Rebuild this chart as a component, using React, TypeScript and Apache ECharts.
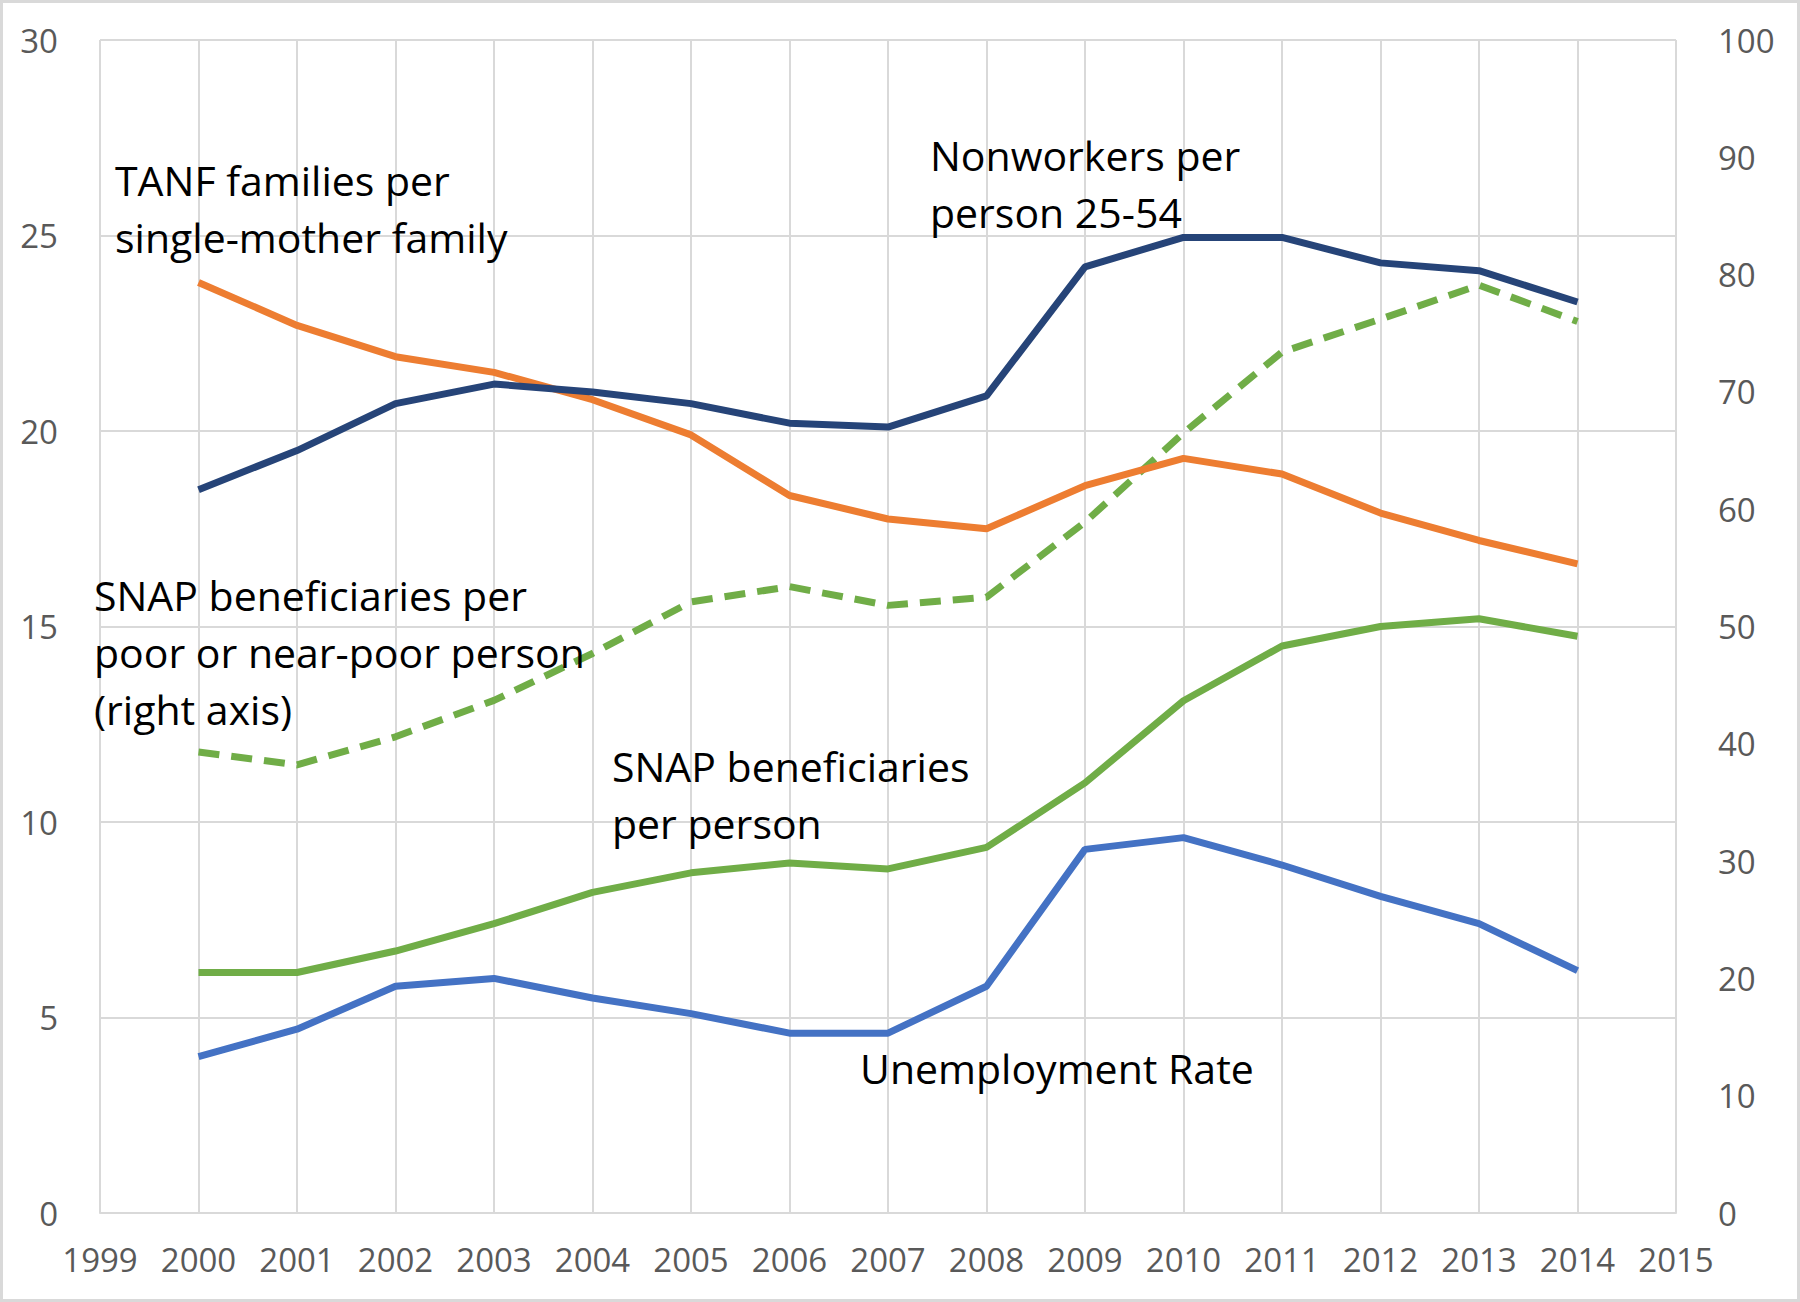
import React, { useEffect, useRef } from "react";
import * as echarts from "echarts";

const years = [2000, 2001, 2002, 2003, 2004, 2005, 2006, 2007, 2008, 2009, 2010, 2011, 2012, 2013, 2014];
const tanfFamilies = [23.8, 22.7, 21.9, 21.5, 20.8, 19.9, 18.35, 17.75, 17.5, 18.6, 19.3, 18.9, 17.9, 17.2, 16.6];
const nonworkers = [18.5, 19.5, 20.7, 21.2, 21.0, 20.7, 20.2, 20.1, 20.9, 24.2, 24.95, 24.95, 24.3, 24.1, 23.3];
const snapPerPerson = [6.15, 6.15, 6.7, 7.4, 8.2, 8.7, 8.95, 8.8, 9.35, 11.0, 13.1, 14.5, 15.0, 15.2, 14.75];
const unemployment = [4.0, 4.7, 5.8, 6.0, 5.5, 5.1, 4.6, 4.6, 5.8, 9.3, 9.6, 8.9, 8.1, 7.4, 6.2];
const snapPerPoor = [39.3, 38.2, 40.6, 43.7, 47.7, 52.1, 53.4, 51.8, 52.5, 58.9, 66.5, 73.4, 76.2, 79.1, 76.0];

const leftTicks = { min: 0, max: 30, interval: 5 };
const rightTicks = { min: 0, max: 100, interval: 10 };
const xTicks = { min: 1999, max: 2015, interval: 1 };

const pairs = (vals: number[]) => years.map((y, i) => [y, vals[i]]);

const FONT = "'Open Sans', 'Noto Sans', sans-serif";

export default function App() {
  const ref = useRef<HTMLDivElement>(null);
  useEffect(() => {
    document.body.style.margin = "0";
    if (!ref.current) return;
    const chart = echarts.init(ref.current, undefined, { renderer: "svg" });
    const axisLabel = { color: "#595959", fontSize: 33, fontFamily: FONT };
    const annot = (x: number, y: number, text: string) => ({
      type: "text",
      x,
      y,
      z: 100,
      style: {
        text,
        fill: "#000000",
        fontSize: 41,
        fontFamily: FONT,
        lineHeight: 57,
        textVerticalAlign: "top",
      },
    });
    chart.setOption({
      animation: false,
      backgroundColor: "#ffffff",
      grid: { left: 100, right: 124, top: 40, bottom: 89, containLabel: false },
      xAxis: {
        type: "value",
        ...xTicks,
        axisLine: { show: true, lineStyle: { color: "#D9D9D9", width: 2 } },
        axisTick: { show: false },
        splitLine: { show: true, lineStyle: { color: "#D9D9D9", width: 2 } },
        axisLabel: { ...axisLabel, margin: 30, formatter: (v: number) => String(v) },
      },
      yAxis: [
        {
          type: "value",
          ...leftTicks,
          position: "left",
          axisLine: { show: false },
          axisTick: { show: false },
          splitLine: { show: true, lineStyle: { color: "#D9D9D9", width: 2 } },
          axisLabel: { ...axisLabel, margin: 42 },
        },
        {
          type: "value",
          ...rightTicks,
          position: "right",
          axisLine: { show: false },
          axisTick: { show: false },
          splitLine: { show: false },
          axisLabel: { ...axisLabel, margin: 42 },
        },
      ],
      series: [
        {
          name: "SNAP beneficiaries per poor or near-poor person",
          type: "line",
          yAxisIndex: 1,
          data: pairs(snapPerPoor),
          showSymbol: false,
          lineStyle: { color: "#70AD47", width: 7, type: [21, 12] },
        },
        {
          name: "TANF families per single-mother family",
          type: "line",
          data: pairs(tanfFamilies),
          showSymbol: false,
          lineStyle: { color: "#ED7D31", width: 7 },
        },
        {
          name: "Nonworkers per person 25-54",
          type: "line",
          data: pairs(nonworkers),
          showSymbol: false,
          lineStyle: { color: "#264478", width: 7 },
        },
        {
          name: "SNAP beneficiaries per person",
          type: "line",
          data: pairs(snapPerPerson),
          showSymbol: false,
          lineStyle: { color: "#70AD47", width: 7 },
        },
        {
          name: "Unemployment Rate",
          type: "line",
          data: pairs(unemployment),
          showSymbol: false,
          lineStyle: { color: "#4472C4", width: 7 },
        },
      ],
      graphic: [
        {
          type: "rect",
          shape: { x: 1.5, y: 1.5, width: 1797, height: 1299 },
          style: { fill: "none", stroke: "#D9D9D9", lineWidth: 3 },
          silent: true,
        },
        annot(115, 151, "TANF families per\nsingle-mother family"),
        annot(930, 126, "Nonworkers per\nperson 25-54"),
        annot(94, 566, "SNAP beneficiaries per\npoor or near-poor person\n(right axis)"),
        annot(612, 737, "SNAP beneficiaries\nper person"),
        annot(860, 1039, "Unemployment Rate"),
      ],
    });
    return () => chart.dispose();
  }, []);
  return <div ref={ref} style={{ width: 1800, height: 1302 }} />;
}
